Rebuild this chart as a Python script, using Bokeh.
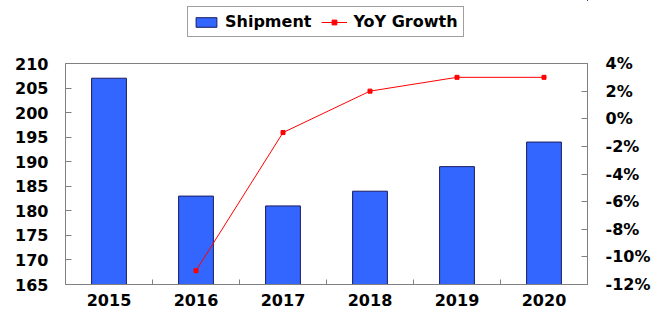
from bokeh.plotting import figure
from bokeh.layouts import column
from bokeh.models import (Range1d, LinearAxis, FixedTicker, Legend, LegendItem,
                          ColumnDataSource, NumeralTickFormatter)
from bokeh.embed import file_html
from bokeh.resources import INLINE

years = ["2015", "2016", "2017", "2018", "2019", "2020"]
shipment = [207, 183, 181, 184, 189, 194]
yoy_years = ["2016", "2017", "2018", "2019", "2020"]
yoy = [-0.11, -0.01, 0.02, 0.03, 0.03]
left_ticks = [165, 170, 175, 180, 185, 190, 195, 200, 205, 210]
right_ticks = [-0.12, -0.10, -0.08, -0.06, -0.04, -0.02, 0.0, 0.02, 0.04, 0.06]

xpos = [i + 1 for i in range(len(years))]
yoy_x = [years.index(y) + 1 for y in yoy_years]

FONT = "DejaVu Sans"
GRAY = "#808080"
BAR_FILL = "#3366FF"
BAR_LINE = "#1a1a60"
RED = "#FF0000"

src = ColumnDataSource(dict(x=xpos, top=shipment))
lsrc = ColumnDataSource(dict(x=yoy_x, y=yoy))

# ---------------- main chart ----------------
p = figure(width=660, height=283, output_backend="svg", toolbar_location=None,
           x_range=Range1d(0.5, len(years) + 0.5), y_range=Range1d(165, 210),
           min_border_left=65, min_border_right=73, min_border_top=10,
           min_border_bottom=52)
p.extra_y_ranges = {"yoy": Range1d(-0.12, 0.04)}
p.xgrid.visible = False
p.ygrid.visible = False
p.outline_line_color = GRAY
p.outline_line_width = 1
p.background_fill_color = "white"
p.border_fill_color = "white"

bars = p.vbar(x="x", top="top", bottom=165, width=0.4, source=src,
              fill_color=BAR_FILL, line_color=BAR_LINE, line_width=1)
ln = p.line(x="x", y="y", source=lsrc, y_range_name="yoy", line_color=RED, line_width=1)
mk = p.scatter(x="x", y="y", source=lsrc, y_range_name="yoy", marker="square", size=4,
               fill_color=RED, line_color=RED)

# x axis
xa = p.xaxis[0]
xa.ticker = FixedTicker(ticks=xpos, minor_ticks=[i + 1.5 for i in range(len(years) - 1)])
xa.major_label_overrides = {i + 1: y for i, y in enumerate(years)}
xa.major_tick_in = 0
xa.major_tick_out = 0
xa.minor_tick_in = 5
xa.minor_tick_out = 0
xa.minor_tick_line_color = GRAY
xa.axis_line_color = GRAY
xa.major_label_standoff = 9

# left y axis
ya = p.yaxis[0]
ya.ticker = FixedTicker(ticks=left_ticks)
ya.major_tick_in = 6
ya.major_tick_out = 0
ya.minor_tick_line_color = None
ya.axis_line_color = GRAY
ya.major_tick_line_color = GRAY
ya.major_label_standoff = 17

# right y axis
ra = LinearAxis(y_range_name="yoy", ticker=FixedTicker(ticks=right_ticks),
                formatter=NumeralTickFormatter(format="0%"))
ra.major_tick_in = 6
ra.major_tick_out = 0
ra.minor_tick_line_color = None
ra.axis_line_color = GRAY
ra.major_tick_line_color = GRAY
ra.major_label_standoff = 18
p.add_layout(ra, "right")

for ax in (xa, ya, ra):
    ax.major_label_text_font = FONT
    ax.major_label_text_font_style = "bold"
    ax.major_label_text_font_size = "16px"
    ax.major_label_text_color = "black"

# ---------------- legend strip (same data, ranges keep marks out of view) ----------------
top = figure(width=660, height=53, output_backend="svg", toolbar_location=None,
             x_range=Range1d(-20, -19), y_range=Range1d(-20, -19),
             x_axis_location=None, y_axis_location=None,
             min_border=0)
top.xgrid.visible = False
top.ygrid.visible = False
top.outline_line_color = None
top.border_fill_color = "white"
top.background_fill_color = "white"

kb = top.vbar(x="x", top="top", width=0.4, source=src,
              fill_color=BAR_FILL, line_color=BAR_LINE, line_width=1)
kl = top.line(x="x", y="y", source=lsrc, line_color=RED, line_width=1)
km = top.scatter(x="x", y="y", source=lsrc, marker="square", size=4,
                 fill_color=RED, line_color=RED)

legend = Legend(items=[LegendItem(label="Shipment", renderers=[kb]),
                       LegendItem(label="YoY Growth", renderers=[kl, km])],
                orientation="horizontal", location=(122, 16))
legend.label_text_font = FONT
legend.label_text_font_style = "bold"
legend.label_text_font_size = "16px"
legend.label_text_color = "black"
legend.glyph_width = 26
legend.glyph_height = 12
legend.label_standoff = 6
legend.spacing = 10
legend.padding = 5
legend.margin = 0
legend.border_line_color = "#404040"
legend.border_line_width = 1
legend.background_fill_alpha = 1
top.add_layout(legend, "center")

layout = column(top, p, spacing=0)
open("out.html", "w").write(file_html(layout, INLINE))
